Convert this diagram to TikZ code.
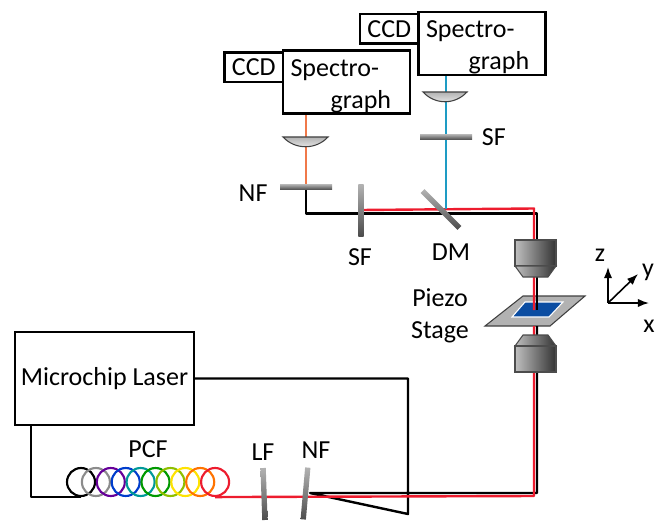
\documentclass[tikz,border=0pt]{standalone}
\usepackage{fontspec}
\setmainfont{Carlito}
\usepackage{tikz}
\usetikzlibrary{arrows.meta, positioning, calc}

\definecolor{beamred}{HTML}{ED1C2E}
\definecolor{beamorange}{HTML}{F0794A}
\definecolor{beamblue}{HTML}{1E9CC4}
\definecolor{samplecol}{HTML}{0B4DA2}

\newcommand{\speclabel}[1]{\rule{0pt}{19pt}Spectro-\\\hspace*{#1}graph}

\pgfdeclarelayer{stagelayer}
\pgfdeclarelayer{beams}
\pgfsetlayers{stagelayer,beams,main}

\begin{document}
\begin{tikzpicture}[x=0.75pt, y=-0.75pt, >=Latex,
    lab/.style={inner sep=0pt, font=\fontsize{19.5}{24}\selectfont},
    box/.style={rectangle, draw=black, line width=1.8pt, fill=white, outer sep=0pt},
    spec/.style={box, minimum width=95pt, minimum height=47pt, text width=84pt, align=left, lab, inner xsep=5.5pt, inner ysep=0pt},
    ccd/.style={box, minimum width=44pt, minimum height=22pt, inner sep=0pt, lab},
    fltr/.style={rectangle, minimum width=39pt, minimum height=4pt, inner sep=0pt, top color=black!30, bottom color=black!70},
    coil/.style={circle, line width=1.6pt, minimum size=21pt, inner sep=0pt},
    wire/.style={draw=black, line width=1.8pt, line join=round},
    redbeam/.style={draw=beamred, line width=1.8pt, line join=round},
    lens/.style={draw=black!75, thick, top color=black!30, bottom color=black!5},
    obj/.style={draw=black!70, thick, left color=black!25, right color=black!80}]

    \useasboundingbox (0,0) rectangle (655,520);

    % Spectrographs
    \node (spec_up) [spec] at (482,43.5) {\speclabel{32pt}};
    \node (spec_low) [spec] at (346.5,82) {\speclabel{30pt}};
    \node (ccd_up) [ccd, anchor=north east] at ($(spec_up.north west)+(0,2)$) {CCD};
    \node (ccd_low) [ccd, anchor=north east] at ($(spec_low.north west)+(0,2)$) {CCD};

    % Laser and fibre
    \node (laser) [box, minimum width=134pt, minimum height=70pt, lab] at (104.5,378.5) {Microchip Laser};
    \foreach \col [count=\i] in {black, black!45, violet!80!blue, blue!70!cyan!80!black, teal!80!cyan, green!60!black, lime!75!black, yellow!85!orange, orange!90!red, beamred}
        \node (coil_\i) [coil, draw=\col] at ({81+14.9*(\i-1)},482) {};
    \node (pcf_lab) [lab] at (148,449) {PCF};

    % Filters
    \node (sf_up) [fltr] at (446,137) {};
    \node (nf_up) [fltr] at (306,187) {};
    \node (sf_low) [fltr, rotate=90] at (361,210) {};
    \node (dm) [fltr, rotate=-45] at (441,209.5) {};
    \node (lf) [fltr, rotate=-88] at (264,494) {};
    \node (nf_low) [fltr, rotate=85] at (305.5,493.5) {};

    \node (sf_up_lab) [lab, right=7pt of sf_up] {SF};
    \node (nf_up_lab) [lab, left=9pt of nf_up, yshift=-4.5pt] {NF};
    \node (sf_low_lab) [lab] at (360,257) {SF};
    \node (dm_lab) [lab] at (451,252) {DM};
    \node (lf_lab) [lab] at (263,452) {LF};
    \node (nf_low_lab) [lab] at (316,450) {NF};

    % Bends of the beam path
    \coordinate (up_red) at (534,208.5);
    \coordinate (up_blk) at (537,213.5);
    \coordinate (focus_red) at (534,310);
    \coordinate (focus_blk) at (537,310);
    \coordinate (stage_red) at (534,326);
    \coordinate (stage_blk) at (537,326);
    \coordinate (low_red) at (534,496);
    \coordinate (low_blk) at (537,493);
    \coordinate (nf_blk) at (310,493);
    \coordinate (loop_top) at (408,378.5);
    \coordinate (loop_bot) at (408,514);

    % Sample stage
    \node (stage_lab) [lab, align=center] at (440,316) {Piezo\\Stage};
    \begin{pgfonlayer}{stagelayer}
    \draw[draw=black!75, thick, fill=black!30] (485,326) -- (523,296) -- (585,296) -- (550,326) -- cycle;
    \draw[draw=white, thick, fill=samplecol] (512,317) -- (525,302) -- (563,302) -- (549,317) -- cycle;
    \end{pgfonlayer}

    % Connections
    \begin{pgfonlayer}{beams}
    \draw[wire] (laser.east) -- (loop_top) -- (loop_bot) -- (nf_blk) -- (low_blk) -- (stage_blk);
    \draw[redbeam] (coil_10.south) -- (low_red) -- (stage_red);
    \draw[wire] ($(laser.south west)+(16,0)$) |- (coil_1.south);
    \draw[wire] (nf_up.center) |- (up_blk) -- (focus_blk);
    \draw[redbeam] (sf_low.center) -- (up_red) -- (focus_red);
    \draw[draw=beamorange, line width=1.8pt] (spec_low.south -| nf_up) -- (nf_up.center);
    \draw[draw=beamblue, line width=1.8pt] (spec_up.south -| sf_up) -- (sf_up.center |- up_red);
    \end{pgfonlayer}

    % Lenses
    \draw[lens] (283,137) .. controls (295,150) and (316,150) .. (328,137) -- cycle;
    \draw[lens] (423,92) .. controls (435,105) and (455,105) .. (467,92) -- cycle;

    % Objectives
    \draw[obj] (515,240) rectangle (556,266);
    \draw[obj] (515,266) -- (523,277) -- (548,277) -- (556,266) -- cycle;
    \draw[obj] (523,335) -- (515,346) -- (556,346) -- (548,335) -- cycle;
    \draw[obj] (515,346) rectangle (556,372);

    % Axes
    \coordinate (origin) at (608,303);
    \coordinate (x_end) at (649,303);
    \coordinate (y_end) at (638,274);
    \coordinate (z_end) at (608,267);
    \draw[->, line width=1.2pt] (origin) -- (x_end);
    \draw[->, line width=1.2pt] (origin) -- (y_end);
    \draw[->, line width=1.2pt] (origin) -- (z_end);
    \node (x_lab) [lab] at (649,326) {x};
    \node (y_lab) [lab] at (648,272) {y};
    \node (z_lab) [lab] at (600,255) {z};
\end{tikzpicture}
\end{document}
